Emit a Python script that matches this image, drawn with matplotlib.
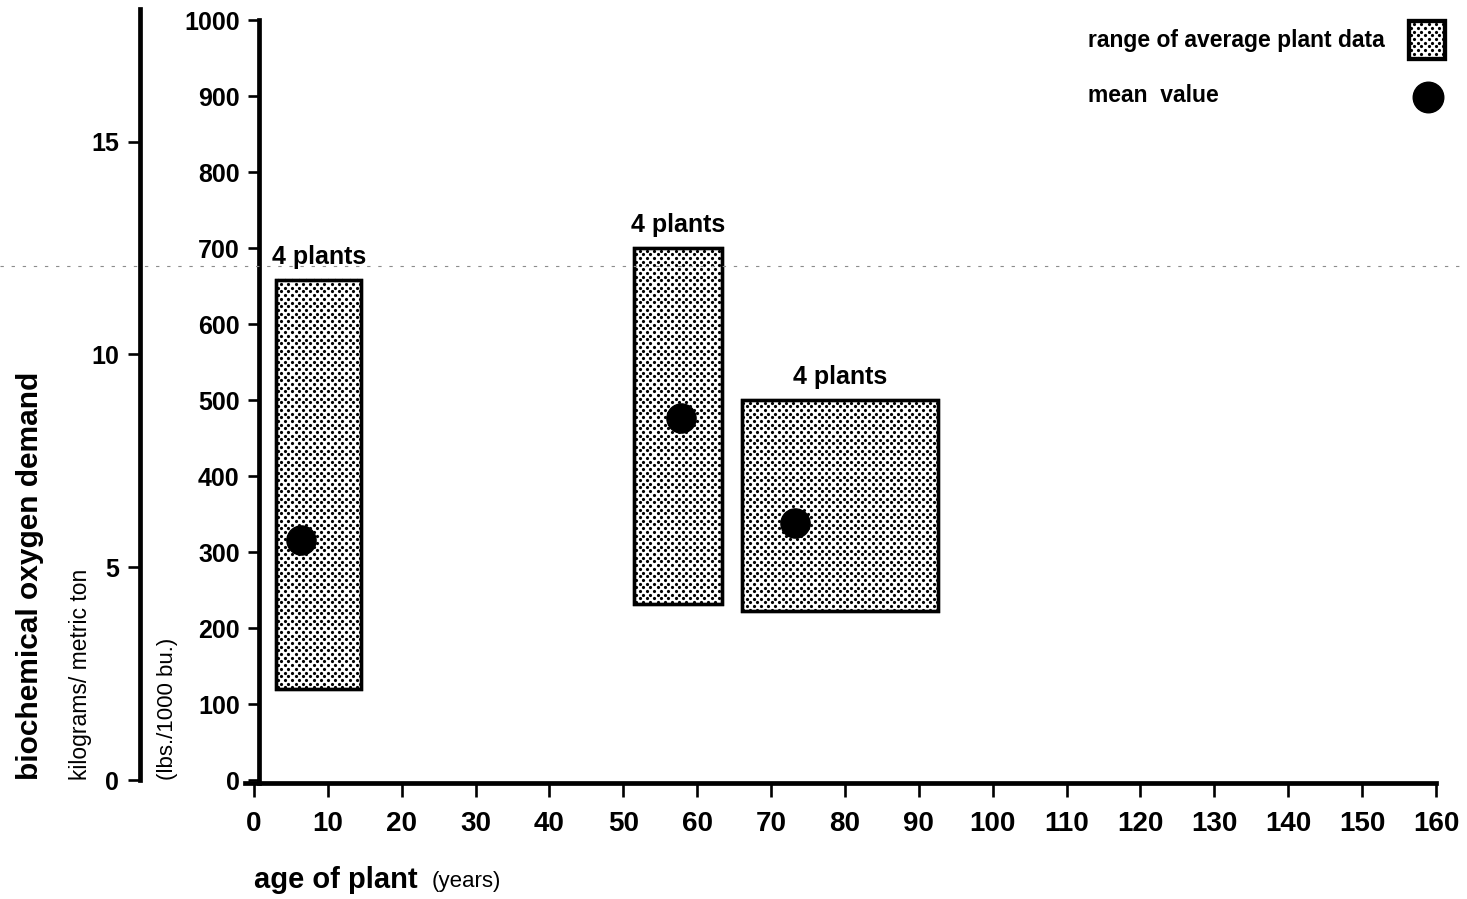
import numpy as np
import matplotlib
matplotlib.use("Agg")
import matplotlib.pyplot as plt
from matplotlib.patches import Rectangle
from matplotlib.lines import Line2D

W, H = 1467, 899

# ranges of average plant data (age in years, BOD in lbs./1000 bu.)
age_lo = [3.0, 51.5, 66.0]
age_hi = [14.5, 63.3, 92.6]
bod_lo = [120, 232, 222]
bod_hi = [658, 700, 500]
mean_age = [6.3, 57.8, 73.2]
mean_bod = [316, 476, 338]
group_labels = ["4 plants", "4 plants", "4 plants"]

x_ticks = list(range(0, 161, 10))
lbs_ticks = list(range(0, 1001, 100))
kg_ticks = [0, 5, 10, 15]
lbs_to_kg = 0.01786  # 1000 bu. of corn = 25.4 metric tons

plt.rcParams["font.family"] = ["Liberation Sans", "DejaVu Sans"]


def fx(px):
    return px / W


def fy(py):
    return 1 - py / H


def stipple(parent, rect, trans, period=7.2, row=3.7):
    """Fill a rectangle with a staggered dot screen, spaced in pixels."""
    x, y = rect.get_xy()
    corners = trans.transform([(x, y), (x + rect.get_width(), y + rect.get_height())])
    (px0, py0), (px1, py1) = corners
    pts = []
    for i, yy in enumerate(np.arange(py0 + 1.5, py1, row)):
        shift = period / 2 if i % 2 else 0
        pts += [(xx, yy) for xx in np.arange(px0 + 1.5 + shift, px1, period)]
    pts = trans.inverted().transform(np.array(pts))
    dots = Line2D(pts[:, 0], pts[:, 1], ls="none", marker="o", markersize=2.3,
                  markeredgewidth=0, color="black", transform=trans, zorder=2.1)
    dots.set_clip_path(rect)
    parent.add_artist(dots)


fig = plt.figure(figsize=(W / 100, H / 100), dpi=100)

# main axes: lbs./1000 bu. against age of plant
x0_px, xscale = 254, 7.39
y0_px, yscale = 780, 0.76
xmin, ymin = -1.2, -4
left = x0_px + xmin * xscale
bottom = y0_px - ymin * yscale
ax = fig.add_axes([fx(left), fy(bottom), (1436 - left) / W, (bottom - 20) / H])
ax.set_xlim(xmin, 160)
ax.set_ylim(ymin, 1000)
ax.patch.set_visible(False)
for s in ["top", "right"]:
    ax.spines[s].set_visible(False)
ax.spines["left"].set_position(("data", 0.7))
ax.spines["left"].set_linewidth(3.4)
ax.spines["bottom"].set_linewidth(3.4)
ax.set_xticks(x_ticks)
ax.set_yticks(lbs_ticks)
ax.tick_params(axis="x", direction="out", length=10, width=1.9, pad=10, labelsize=20)
ax.tick_params(axis="y", direction="out", length=8, width=1.9, pad=6, labelsize=18)
for lab in ax.get_xticklabels() + ax.get_yticklabels():
    lab.set_fontweight("bold")

for lo, hi, blo, bhi, lab in zip(age_lo, age_hi, bod_lo, bod_hi, group_labels):
    box = Rectangle((lo, blo), hi - lo, bhi - blo, facecolor="white",
                    edgecolor="black", lw=2.4, zorder=2)
    ax.add_patch(box)
    stipple(ax, box, ax.transData)
    ax.add_patch(Rectangle((lo, blo), hi - lo, bhi - blo, fill=False,
                           edgecolor="black", lw=2.4, zorder=2.2))
    ax.annotate(lab, ((lo + hi) / 2, bhi), xytext=(0, 8), textcoords="offset points",
                ha="center", va="bottom", fontsize=18, fontweight="bold")

ax.plot(mean_age, mean_bod, "o", color="black", markersize=21, zorder=3, ls="none")

# secondary axis: kilograms / metric ton
kg_top = (y0_px - 9) / (yscale * 1000) * 1000 * lbs_to_kg
ax2 = fig.add_axes([fx(140), fy(y0_px), 0.0005, (y0_px - 9) / H])
ax2.set_ylim(0, kg_top)
ax2.patch.set_visible(False)
for s in ["top", "right", "bottom"]:
    ax2.spines[s].set_visible(False)
ax2.spines["left"].set_linewidth(3.4)
ax2.set_xticks([])
ax2.set_yticks(kg_ticks)
ax2.tick_params(axis="y", direction="out", length=9, width=1.9, pad=6, labelsize=18)
for lab in ax2.get_yticklabels():
    lab.set_fontweight("bold")

# axis titles
fig.text(fx(30), fy(780), "biochemical oxygen demand", rotation=90, ha="center",
         va="bottom", fontsize=21.5, fontweight="bold")
fig.text(fx(80), fy(780), "kilograms/ metric ton", rotation=90, ha="center",
         va="bottom", fontsize=16.5)
fig.text(fx(168), fy(780), "(lbs./1000 bu.)", rotation=90, ha="center",
         va="bottom", fontsize=16)
fig.text(fx(254), fy(880), "age of plant", ha="left", va="center",
         fontsize=21, fontweight="bold")
fig.text(fx(432), fy(882), "(years)", ha="left", va="center", fontsize=16)

# key
fig.text(fx(1088), fy(41), "range of average plant data", ha="left", va="center",
         fontsize=16.5, fontweight="bold")
fig.text(fx(1088), fy(96), "mean  value", ha="left", va="center",
         fontsize=16.5, fontweight="bold")
key_box = Rectangle((fx(1409), fy(59)), 36 / W, 38 / H, transform=fig.transFigure,
                    facecolor="white", edgecolor="black", lw=3)
fig.add_artist(key_box)
stipple(fig, key_box, fig.transFigure)
fig.add_artist(Rectangle((fx(1409), fy(59)), 36 / W, 38 / H, transform=fig.transFigure,
                         fill=False, edgecolor="black", lw=3, zorder=2.2))
fig.add_artist(Line2D([fx(1428)], [fy(97)], marker="o", markersize=22, color="black",
                      ls="none", transform=fig.transFigure))

# fold line across the sheet
fig.add_artist(Line2D([0, 1], [fy(266), fy(266)], color="0.55", lw=0.8,
                      ls=(0, (3, 7)), transform=fig.transFigure))

fig.savefig("out.png", dpi=100)
